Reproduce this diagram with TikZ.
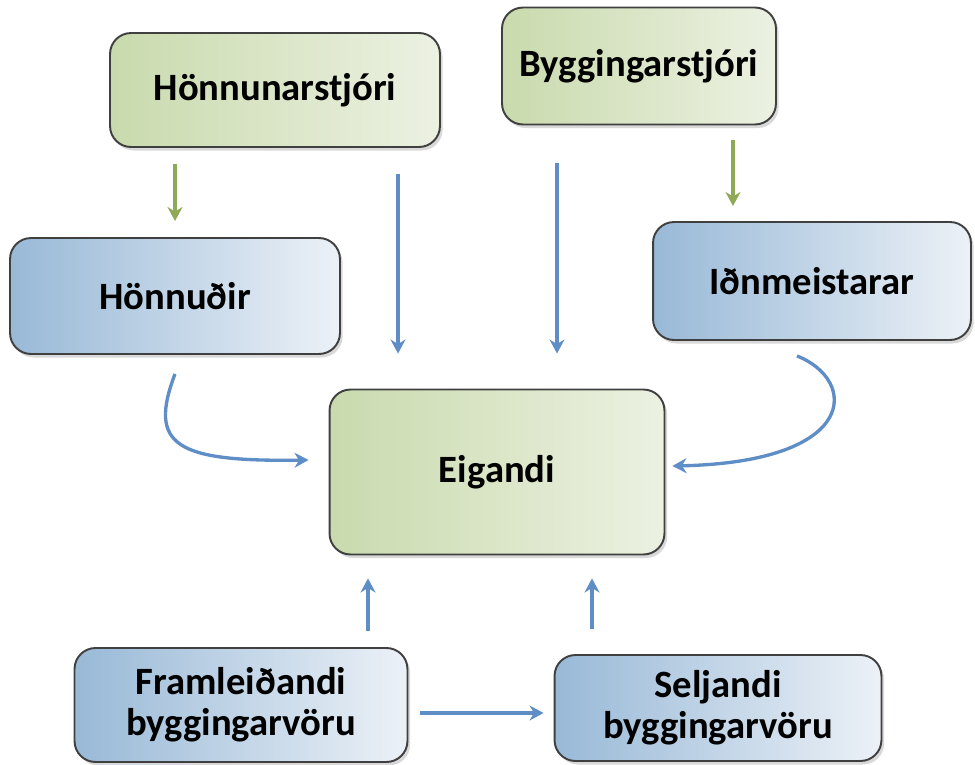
\documentclass[tikz,border=0pt]{standalone}
\usepackage{fontspec}
\setmainfont{Carlito}
\usetikzlibrary{arrows.meta, positioning, calc, shadows}
\definecolor{mArrowBlue}{HTML}{5F8DC6}
\definecolor{mArrowGreen}{HTML}{8FAA56}
\definecolor{mGreenL}{HTML}{C9DAAD}
\definecolor{mGreenR}{HTML}{ECF1E2}
\definecolor{mBlueL}{HTML}{98B9D7}
\definecolor{mBlueR}{HTML}{ECF1F7}
\definecolor{mEdge}{HTML}{404040}

\begin{document}
\begin{tikzpicture}[x=0.02cm, y=-0.02cm,
    box/.style={rounded corners=0.42cm, draw=mEdge, line width=1.1pt, inner sep=0pt,
      align=center, font=\fontsize{22}{23.5}\selectfont\bfseries,
      drop shadow={opacity=0.3, shadow xshift=1.5pt, shadow yshift=-2pt}},
    greenbox/.style={box, left color=mGreenL, right color=mGreenR},
    bluebox/.style={box, left color=mBlueL, right color=mBlueR},
    blueline/.style={-{Stealth[length=8pt, width=8.5pt]}, line width=1.9pt, mArrowBlue},
    greenline/.style={-{Stealth[length=8pt, width=8.5pt]}, line width=1.9pt, mArrowGreen}]
    \useasboundingbox (0,0) rectangle (975,765);

    % boxes
    \node[greenbox, minimum width=6.6cm, minimum height=2.28cm] (hstj) at (275,90) {Hönnunarstjóri};
    \node[greenbox, minimum width=5.48cm, minimum height=2.34cm] (bstj) at (639,66) {Byggingarstjóri};
    \node[bluebox, minimum width=6.6cm, minimum height=2.32cm] (honn) at (175,296) {Hönnuðir};
    \node[bluebox, minimum width=6.36cm, minimum height=2.36cm] (idn) at (812,281) {Iðnmeistarar};
    \node[greenbox, minimum width=6.7cm, minimum height=3.3cm] (eig) at (497,472) {Eigandi};
    \node[bluebox, minimum width=6.66cm, minimum height=2.28cm] (fram) at (241,705) {Framleiðandi\\byggingarvöru};
    \node[bluebox, minimum width=6.54cm, minimum height=2.12cm] (selj) at (718,708) {Seljandi\\byggingarvöru};

    % columns for the straight arrows
    \coordinate (hcol) at (398,0);
    \coordinate (bcol) at (557,0);
    \coordinate (gcol) at (733,0);
    \coordinate (fcol) at (368,0);
    \coordinate (scol) at (592,0);
    \coordinate (hrow) at (0,713);

    \draw[greenline, shorten <=0.32cm, shorten >=0.32cm] (hstj.south -| honn.north) -- (honn.north);
    \draw[greenline, shorten <=0.3cm, shorten >=0.3cm] (bstj.south -| gcol) -- (idn.north -| gcol);
    \draw[blueline, shorten <=0.52cm, shorten >=0.7cm] (hstj.south -| hcol) -- (eig.north -| hcol);
    \draw[blueline, shorten <=0.76cm, shorten >=0.7cm] (bstj.south -| bcol) -- (eig.north -| bcol);
    \draw[blueline, shorten <=0.32cm, shorten >=0.46cm] (fram.north -| fcol) -- (eig.south -| fcol);
    \draw[blueline, shorten <=0.5cm, shorten >=0.46cm] (selj.north -| scol) -- (eig.south -| scol);
    \draw[blueline, shorten <=0.24cm, shorten >=0.2cm] (fram.east |- hrow) -- (selj.west |- hrow);

    % curved arrows into the owner
    \draw[blueline] ([yshift=-0.38cm]honn.south) .. controls (148,445) and (175,462) .. ([xshift=-0.4cm, yshift=0.24cm]eig.west);
    \draw[blueline] ([xshift=-0.3cm, yshift=-0.3cm]idn.south) .. controls (858,380) and (860,462) .. ([xshift=0.14cm, yshift=0.12cm]eig.east);
\end{tikzpicture}
\end{document}
